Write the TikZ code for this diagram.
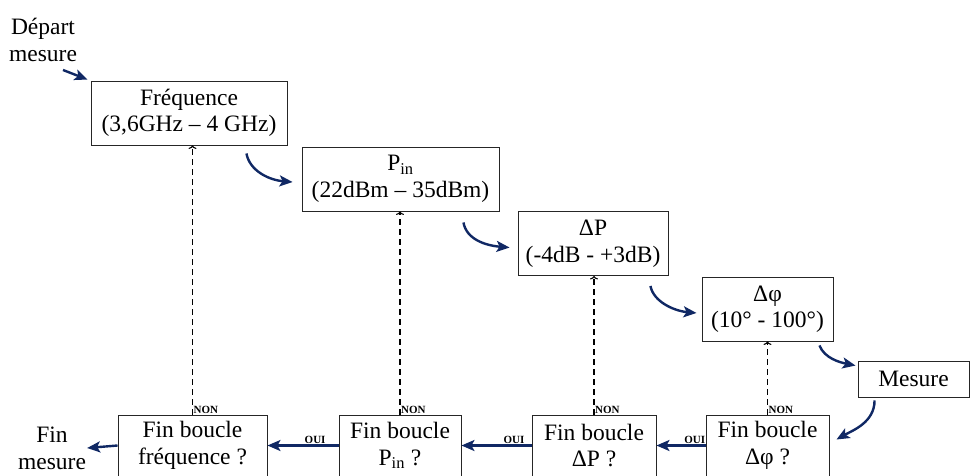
\documentclass[tikz,border=0pt]{standalone}
\usepackage{fontspec}
\setmainfont{Liberation Serif}
\usetikzlibrary{arrows.meta,calc}
\definecolor{navy}{RGB}{16,40,100}
\begin{document}
\begin{tikzpicture}[x=1pt,y=-1pt,
  box/.style={draw=black!85, line width=0.9pt, align=center, inner sep=0pt, minimum height=64pt, font=\fontsize{23.5}{26.5}\selectfont},
  flow/.style={draw=navy, line width=2.4pt, -{Stealth[length=13pt,width=11pt,inset=3pt]}},
  back/.style={draw=black, line width=1.1pt, dash pattern=on 6pt off 4pt, -{To[length=3.5pt,width=8pt]}},
  lab/.style={font=\fontsize{11}{12}\selectfont\bfseries, inner sep=1pt},
  txt/.style={align=center, font=\fontsize{23.5}{27}\selectfont, inner sep=1pt}]
\useasboundingbox (0,0) rectangle (970,475);

% top boxes
\node[box, minimum width=196pt] (freq) at (189,113) {Fréquence\\(3,6GHz – 4 GHz)};
\node[box, minimum width=197pt] (pin) at (400.5,179) {P\textsubscript{in}\\(22dBm – 35dBm)};
\node[box, minimum width=150pt] (dp) at (593,243.5) {ΔP\\(-4dB - +3dB)};
\node[box, minimum width=131pt] (dphi) at (767.5,309) {Δφ\\(10° - 100°)};
\node[box, minimum width=111pt, minimum height=36pt] (mes) at (913.5,379) {Mesure};

% bottom boxes
\node[box, minimum width=149pt, minimum height=61pt] (finf) at (192.5,445.5) {Fin boucle\\fréquence ?};
\node[box, minimum width=122pt, minimum height=61pt] (finp) at (400,445.5) {Fin boucle\\P\textsubscript{in} ?};
\node[box, minimum width=124pt, minimum height=61pt] (findp) at (594,445.5) {Fin boucle\\ΔP ?};
\node[box, minimum width=123pt, minimum height=61pt] (findphi) at (767.5,445.5) {Fin boucle\\Δφ ?};

% free texts
\node[txt] (dep) at (43,40) {Départ\\mesure};
\node[txt] (finm) at (52,448) {Fin\\mesure};

% start arrow
\coordinate (s0) at ($(dep.south)+(20,7)$);
\draw[flow] (s0) -- ($(freq.north west)+(-3,-1)$);

% curved flow arrows
\coordinate (s1) at ($(freq.south east)+(-41,8)$);
\draw[flow] (s1) .. controls +(3,17) and +(-24,-2) .. ($(pin.west)+(-9,3)$);
\coordinate (s2) at ($(pin.south east)+(-36,11)$);
\draw[flow] (s2) .. controls +(3,17) and +(-24,-2) .. ($(dp.west)+(-8,4)$);
\coordinate (s3) at ($(dp.south east)+(-18,10)$);
\draw[flow] (s3) .. controls +(3,16) and +(-22,-2) .. ($(dphi.west)+(-5,4)$);
\coordinate (s4) at ($(dphi.south east)+(-14,4)$);
\draw[flow] (s4) .. controls +(5,13) and +(-15,-3) .. ($(mes.north west)+(-2,5)$);
\coordinate (s5) at ($(mes.south west)+(17,3)$);
\draw[flow] (s5) .. controls +(0,22) and +(16,-9) .. ($(findphi.east)+(7,-6)$);

% OUI arrows
\draw[flow] (finp.west) -- node[lab, anchor=south, pos=0.33] {OUI} (finf.east);
\draw[flow] (findp.west) -- node[lab, anchor=south, pos=0.25] {OUI} (finp.east);
\draw[flow] (findphi.west) -- node[lab, anchor=south, pos=0.22] {OUI} (findp.east);
\draw[flow] (finf.west) -- (finm.east);

% NON dashed returns
\draw[back] (finf.north) -- (finf.north |- freq.south);
\node[lab, anchor=south west] (n1) at (finf.north) {NON};
\draw[back] (finp.north) -- (finp.north |- pin.south);
\node[lab, anchor=south west] (n2) at (finp.north) {NON};
\draw[back] (findp.north) -- (findp.north |- dp.south);
\node[lab, anchor=south west] (n3) at (findp.north) {NON};
\draw[back] (findphi.north) -- (findphi.north |- dphi.south);
\node[lab, anchor=south west] (n4) at (findphi.north) {NON};
\end{tikzpicture}
\end{document}
